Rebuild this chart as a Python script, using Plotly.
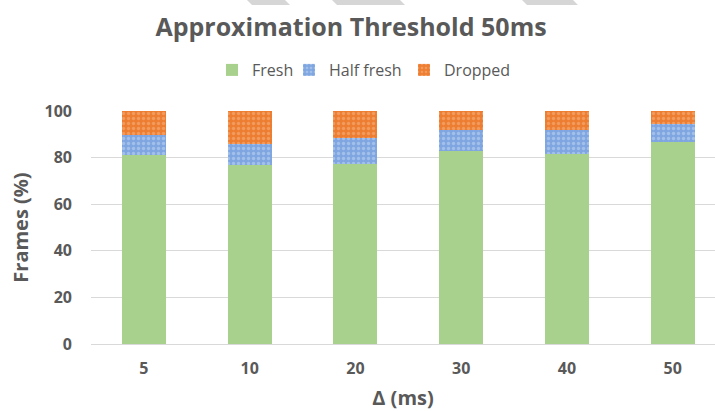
import plotly.graph_objects as go

categories = ["5", "10", "20", "30", "40", "50"]
fresh = [81.0, 77.0, 77.4, 82.9, 81.4, 86.7]
half_fresh = [8.6, 8.7, 11.0, 8.8, 10.3, 7.6]
dropped = [10.4, 14.3, 11.6, 8.3, 8.3, 5.7]
y_ticks = [0, 20, 40, 60, 80, 100]

FONT = "Open Sans"
GREY = "#595959"
W, H = 715, 411
L, R, T, B = 91, 0, 111, 67

fig = go.Figure()
fig.add_bar(name="Fresh", x=categories, y=fresh, legend="legend",
            marker=dict(color="#A9D18E", line=dict(width=0)))
fig.add_bar(name="Half fresh", x=categories, y=half_fresh, legend="legend2",
            marker=dict(color="#8DB1E6", line=dict(width=0),
                        pattern=dict(shape=".", fgcolor="#C6D9F4", bgcolor="#7FA6E0", size=5, solidity=0.35)))
fig.add_bar(name="Dropped", x=categories, y=dropped, legend="legend3",
            marker=dict(color="#ED7D31", line=dict(width=0),
                        pattern=dict(shape=".", fgcolor="#F6B98C", bgcolor="#ED7D31", size=5, solidity=0.35)))


def px(x, y):
    return (x - L) / (W - L - R), (H - B - y) / (H - T - B)


# faint watermark strokes at the top edge
wm_shapes = []
for (x0, x1) in [(247, 285), (332, 400), (522, 573)]:
    pts = [px(x0, 0), px(x1, 0), px(x1 + 5, 5), px(x0 + 5, 5)]
    path = "M " + " L ".join(f"{a:.4f},{b:.4f}" for a, b in pts) + " Z"
    wm_shapes.append(dict(type="path", xref="paper", yref="paper", path=path,
                          fillcolor="#D6D6D6", line=dict(width=0), layer="above"))


def legend_at(marker_cx):
    return dict(orientation="h", x=(marker_cx - 19) / W, xanchor="left", xref="container",
                y=1 - 70 / H, yref="container", yanchor="middle",
                font=dict(size=16, color=GREY, family=FONT), itemwidth=30,
                bgcolor="rgba(0,0,0,0)")


fig.update_layout(
    width=W, height=H,
    barmode="stack", bargap=0.584,
    paper_bgcolor="white", plot_bgcolor="white",
    margin=dict(l=L, r=R, t=T, b=B, autoexpand=False),
    font=dict(family=FONT, color=GREY),
    title=dict(text="<b>Approximation Threshold 50ms</b>", x=351 / W, xanchor="center",
               y=1 - 27 / H, yanchor="middle", font=dict(size=25, color=GREY, family=FONT)),
    legend=legend_at(231),
    legend2=legend_at(308),
    legend3=legend_at(423),
    showlegend=True,
    shapes=wm_shapes,
)
fig.update_xaxes(type="category", range=[-0.5, 5.4], showgrid=False, showline=False, automargin=False,
                 ticks="", ticklabelstandoff=13,
                 tickfont=dict(size=16, color=GREY, family=FONT, weight="bold"),
                 title=dict(text="<b>Δ (ms)</b>", font=dict(size=20, color=GREY, family=FONT), standoff=20))
fig.update_yaxes(range=[0, 100], tickvals=y_ticks, showgrid=True, gridcolor="#D9D9D9", gridwidth=1,
                 automargin=False,
                 zeroline=True, zerolinecolor="#D9D9D9", zerolinewidth=1, showline=False, ticks="",
                 ticklabelstandoff=18,
                 tickfont=dict(size=16, color=GREY, family=FONT, weight="bold"),
                 title=dict(text="<b>Frames (%)</b>", font=dict(size=20, color=GREY, family=FONT), standoff=10))

fig.write_html("out.html", config={"displayModeBar": False},
               post_script="document.body.style.margin='0';")
